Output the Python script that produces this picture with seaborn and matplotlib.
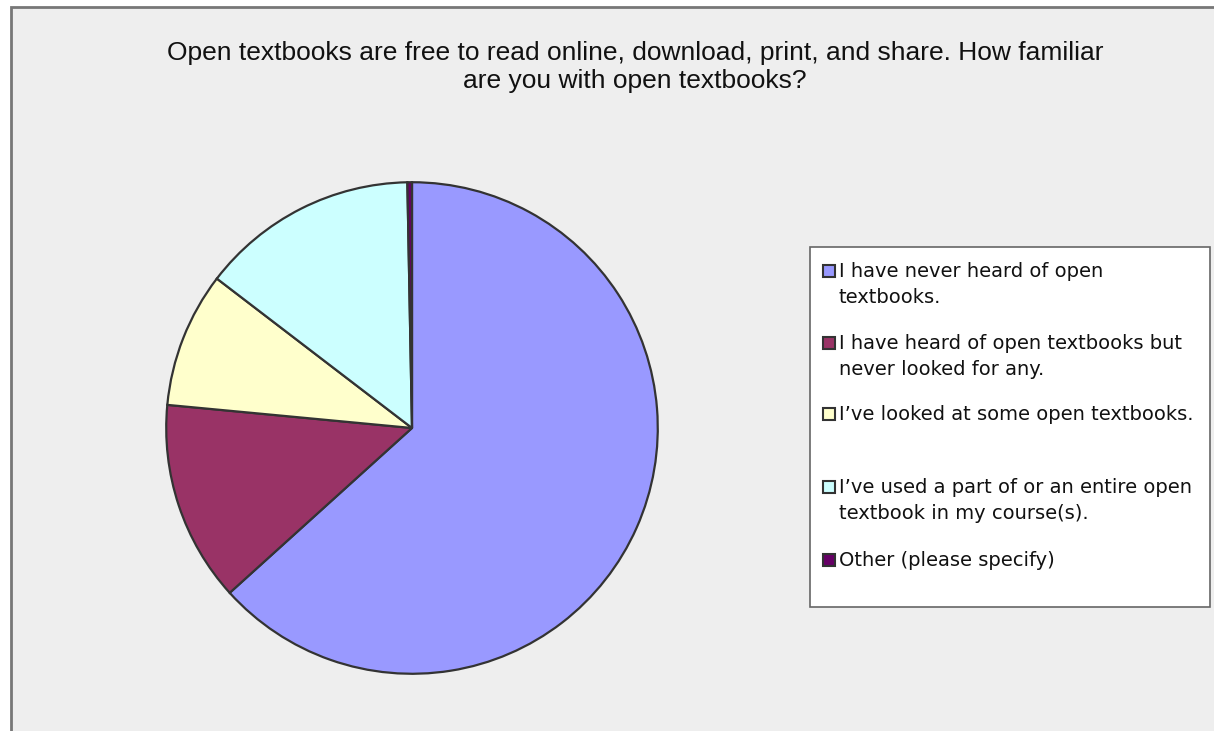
import numpy as np
import matplotlib
matplotlib.use("Agg")
import matplotlib.pyplot as plt
import seaborn as sns
from matplotlib.patches import Rectangle

# survey answers, share of respondents (%)
answers = [
    "I have never heard of open\ntextbooks.",
    "I have heard of open textbooks but\nnever looked for any.",
    "I\u2019ve looked at some open textbooks.",
    "I\u2019ve used a part of or an entire open\ntextbook in my course(s).",
    "Other (please specify)",
]
shares = [63.3, 13.2, 8.9, 14.3, 0.3]
slice_colors = ["#9999ff", "#993366", "#ffffcc", "#ccffff", "#660066"]
title = ("Open textbooks are free to read online, download, print, and share. How familiar\n"
         "are you with open textbooks?")

sns.set_theme(style="white")
plt.rcParams['font.family'] = ['DejaVu Sans']

W, H = 1214, 731
fig = plt.figure(figsize=(W / 100, H / 100), dpi=100)
fig.patch.set_facecolor("white")

# chart area background with frame (runs off the right/bottom edge)
bg = Rectangle((11 / W, -0.01), 1.02, 1 - 7 / H + 0.01, transform=fig.transFigure,
               facecolor="#eeeeee", edgecolor="#777777", linewidth=2, zorder=-5)
fig.patches.append(bg)

# pie
cx, cy, r = 412, 428, 247
ax = fig.add_axes([(cx - r) / W, (H - cy - r) / H, 2 * r / W, 2 * r / H])
ax.set_zorder(5)
ax.pie(shares, colors=slice_colors, startangle=90, counterclock=False,
       wedgeprops=dict(edgecolor="#333333", linewidth=1.6))
ax.set_aspect("auto")
ax.set_xlim(-1.005, 1.005)
ax.set_ylim(-1.005, 1.005)
ax.axis("off")

fig.text(635 / W, 1 - 67 / H, title, ha="center", va="center", fontsize=19,
         family=["Liberation Sans"], color="#111111", linespacing=1.22, zorder=6)

# legend box
lx0, ly0, lx1, ly1 = 810, 247, 1210, 607
fig.patches.append(Rectangle((lx0 / W, 1 - ly1 / H), (lx1 - lx0) / W, (ly1 - ly0) / H,
                             transform=fig.transFigure, facecolor="white",
                             edgecolor="#666666", linewidth=1.2, zorder=1))
entry_y = [271, 343, 414, 487, 560]
for label, col, y in zip(answers, slice_colors, entry_y):
    fig.patches.append(Rectangle((823 / W, 1 - (y + 6) / H), 12 / W, 12 / H,
                                 transform=fig.transFigure, facecolor=col,
                                 edgecolor="#333333", linewidth=1.5, zorder=2))
    fig.text(839 / W, 1 - (y - 9) / H, label, ha="left", va="top", fontsize=14,
             color="#111111", linespacing=1.46, zorder=3)

fig.savefig("out.png", dpi=100)
